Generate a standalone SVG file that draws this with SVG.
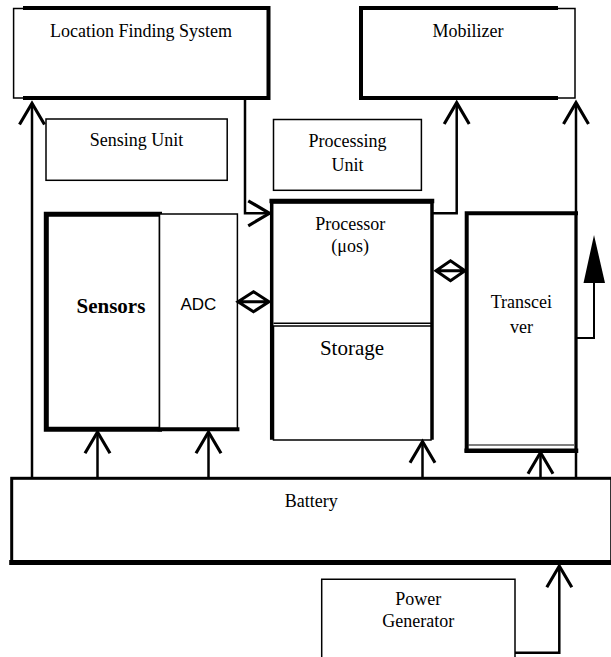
<svg xmlns="http://www.w3.org/2000/svg" width="611" height="657" viewBox="0 0 611 657" font-family="'Liberation Serif', 'Times New Roman', serif">
<style>
.t{font-size:18px;fill:#000;text-anchor:middle}
.thin{fill:#fff;stroke:#000;stroke-width:1.5}
.thk{fill:none;stroke:#000;stroke-linecap:square}
.c{fill:none;stroke:#000;stroke-width:2.5}
</style>
<defs>
<marker id="v" markerUnits="userSpaceOnUse" markerWidth="30" markerHeight="30" viewBox="-20 -12 24 24" refX="0" refY="0" orient="auto">
<path d="M-17,-10 L0,0 L-17,10" fill="none" stroke="#000" stroke-width="2.5"/>
</marker>
</defs>
<rect width="611" height="657" fill="#fff"/>

<g id="lfs">
<rect class="thin" x="13.6" y="8.5" width="255" height="89.5"/>
<path class="thk" stroke-width="4" d="M25,8 H268.5 V98 H25"/>
<text class="t" x="141" y="37.3">Location Finding System</text>
</g>

<g id="mobilizer">
<rect class="thin" x="361" y="8.5" width="214" height="89.5"/>
<path class="thk" stroke-width="4" d="M556,8 H361 V98 H556"/>
<text class="t" x="468" y="37.3">Mobilizer</text>
</g>

<g id="sensing-unit">
<rect class="thin" x="46" y="119" width="181.2" height="61.3"/>
<text class="t" x="136.5" y="145.7">Sensing Unit</text>
</g>

<g id="processing-unit">
<rect class="thin" x="273.5" y="119.5" width="147.9" height="70.8"/>
<text class="t" x="347.5" y="146.7">Processing</text>
<text class="t" x="347.5" y="171">Unit</text>
</g>

<g id="sensors">
<rect class="thin" x="46.3" y="214.2" width="113.2" height="215" stroke-width="1.5"/>
<path class="thk" stroke-width="5" d="M159.5,214.2 H46.3 V429.3 H159.5"/>
<text class="t" x="110.9" y="313.3" font-size="21" font-weight="bold" style="font-size:21px">Sensors</text>
</g>

<g id="adc">
<rect class="thin" x="159.5" y="214" width="77.9" height="215.3" stroke-width="2"/>
<path class="thk" stroke-width="4" d="M159.5,429.3 H237.4"/>
<text x="198.4" y="310" font-family="'Liberation Sans', Arial, sans-serif" font-size="17" text-anchor="middle">ADC</text>
</g>

<g id="processor">
<path class="thk" stroke-width="3.5" d="M271.7,438 V202 H432 V438"/>
<path class="thk" stroke-width="4.5" d="M271.7,201 H432"/>
<path fill="none" stroke="#000" stroke-width="1.5" d="M273.5,323.3 H431"/>
<text class="t" x="350.2" y="230">Processor</text>
<text class="t" x="350.2" y="251.7">(μos)</text>
</g>

<g id="storage">
<rect class="thin" x="273.5" y="326" width="157.5" height="114"/>
<text class="t" x="352" y="355" style="font-size:21px">Storage</text>
</g>

<g id="transceiver">
<rect class="thin" x="466.7" y="213.3" width="109.3" height="237"/>
<path class="thk" stroke-width="4" d="M466.7,450.3 V213.3 H576"/>
<path class="thk" stroke-width="3" d="M576,213.3 V450.3"/>
<path class="thk" stroke-width="4.5" d="M466.7,450.8 H576"/>
<path fill="none" stroke="#000" stroke-width="1.2" d="M468.5,445 H574"/>
<text class="t" x="521.4" y="308.3">Transcei</text>
<text class="t" x="521.4" y="333.3">ver</text>
</g>

<g id="battery">
<rect x="11.7" y="478.3" width="600" height="84" fill="#fff" stroke="#000" stroke-width="3"/>
<path class="thk" stroke-width="5" d="M11.7,562.5 H611"/>
<text class="t" x="311.3" y="507.3">Battery</text>
</g>

<g id="power-generator">
<path fill="#fff" stroke="#000" stroke-width="1.5" d="M321.7,660 V579.3 H515 V660"/>
<text class="t" x="418.3" y="605">Power</text>
<text class="t" x="418.3" y="626.7">Generator</text>
</g>

<g id="connectors">
<path class="c" d="M32,478 V103.3" marker-end="url(#v)"/>
<path class="c" d="M245,98 V213.3 H269.5" marker-end="url(#v)"/>
<path class="c" d="M433,213.3 H456.7 V102.7" marker-end="url(#v)"/>
<path class="c" d="M576,478 V102.7" marker-end="url(#v)"/>
<path class="c" d="M97.5,478 V432" marker-end="url(#v)"/>
<path class="c" d="M208.5,478 V432" marker-end="url(#v)"/>
<path class="c" d="M422.5,478 V441.5" marker-end="url(#v)"/>
<path class="c" d="M540.5,478 V452.5" marker-end="url(#v)"/>
<path class="c" d="M515,652.7 H559.3 V566" marker-end="url(#v)"/>
<path fill="none" stroke="#000" stroke-width="3" d="M238,301.7 L253.5,291.7 L269,301.7 L253.5,311.7 Z M238,301.7 H269"/>
<path fill="none" stroke="#000" stroke-width="3" d="M436,270.7 L450.5,260.7 L465,270.7 L450.5,280.7 Z M436,270.7 H465"/>
<path fill="none" stroke="#000" stroke-width="2" d="M576,338 H594 V282"/>
<polygon points="583.5,283 605,283 594,235" fill="#000"/>
</g>
</svg>
